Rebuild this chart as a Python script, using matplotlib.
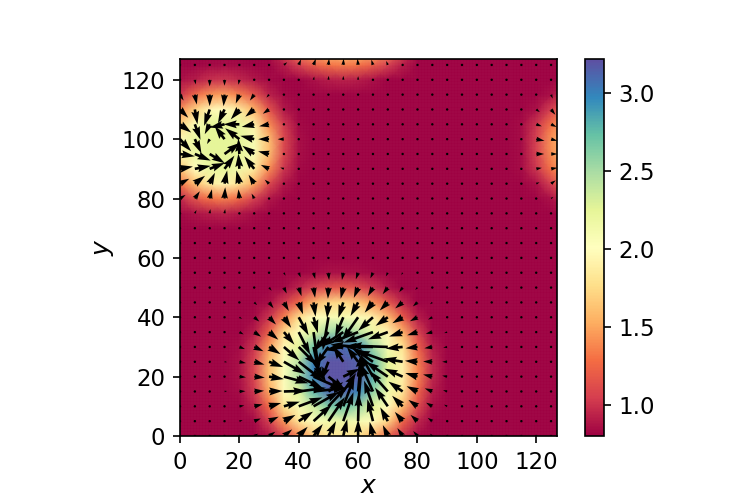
import matplotlib
matplotlib.use("Agg")
import matplotlib.pyplot as plt
import numpy as np

# field values, on a 5 unit grid: (y, first x, values)
field_a = [
    (0, 30, [.87, 1.08, 1.37, 1.65, 1.80, 1.83, 1.77, 1.58, 1.23, .98, .82]),
    (5, 25, [.82, 1.05, 1.44, 1.83, 2.04, 2.14, 2.18, 2.10, 1.98, 1.72, 1.25, .95, .80]),
    (10, 25, [.93, 1.27, 1.80, 2.08, 2.35, 2.65, 2.72, 2.55, 2.25, 2.00, 1.60, 1.12, .84]),
    (15, 20, [.83, 1.02, 1.50, 1.98, 2.28, 2.78, 3.10, 3.15, 3.00, 2.60, 2.14, 1.82, 1.25, .90]),
    (20, 20, [.85, 1.08, 1.62, 2.05, 2.48, 3.00, 3.20, 3.20, 3.17, 2.80, 2.25, 1.90, 1.37, .95]),
    (25, 20, [.85, 1.07, 1.60, 2.04, 2.43, 3.00, 3.20, 3.20, 3.15, 2.78, 2.25, 1.90, 1.35, .95]),
    (30, 20, [.83, 1.00, 1.47, 1.95, 2.25, 2.72, 3.03, 3.10, 2.95, 2.52, 2.10, 1.80, 1.23, .90]),
    (35, 25, [.90, 1.22, 1.75, 2.04, 2.27, 2.52, 2.60, 2.43, 2.18, 1.95, 1.55, 1.08, .82]),
    (40, 25, [.82, 1.00, 1.35, 1.77, 2.00, 2.08, 2.10, 2.05, 1.90, 1.60, 1.20, .90]),
    (45, 30, [.84, 1.02, 1.26, 1.55, 1.72, 1.75, 1.65, 1.44, 1.17, .95]),
    (50, 35, [.82, .93, 1.05, 1.14, 1.17, 1.12, 1.00, .88]),
    (55, 45, [.82, .85, .85, .84, .82]),
]
field_b = [
    (75, 0, [.82, .86, .90, .92, .88, .83, .80]),
    (80, 0, [.95, 1.15, 1.30, 1.35, 1.25, 1.05, .88, .81]),
    (85, 0, [1.30, 1.60, 1.85, 1.95, 1.80, 1.50, 1.10, .88, .80]),
    (90, 0, [1.65, 2.00, 2.20, 2.25, 2.15, 1.85, 1.40, 1.00, .82]),
    (95, 0, [1.93, 2.18, 2.25, 2.25, 2.25, 2.08, 1.60, 1.08, .84]),
    (100, 0, [1.95, 2.20, 2.25, 2.25, 2.25, 2.10, 1.60, 1.10, .84]),
    (105, 0, [1.70, 2.05, 2.25, 2.25, 2.20, 1.90, 1.40, 1.02, .82]),
    (110, 0, [1.40, 1.70, 1.95, 2.00, 1.85, 1.55, 1.15, .88, .80]),
    (115, 0, [1.00, 1.25, 1.42, 1.48, 1.35, 1.15, .92, .82]),
    (120, 0, [.85, .90, .98, 1.00, .95, .88, .82]),
    (125, 5, [.80, .82, .83, .82]),
]
field_c = [
    (120, 45, [.85, .90, .92, .90, .85]),
    (125, 35, [.90, 1.05, 1.20, 1.30, 1.33, 1.30, 1.20, 1.05, .90]),
    (130, 35, [1.10, 1.40, 1.60, 1.70, 1.75, 1.70, 1.60, 1.40, 1.10]),
]
field_d = [
    (80, 125, [.85, 1.00]),
    (85, 120, [.85, 1.05, 1.30]),
    (90, 115, [.83, 1.00, 1.30, 1.55]),
    (95, 115, [.83, 1.05, 1.40, 1.65]),
    (100, 115, [.83, 1.05, 1.42, 1.65]),
    (105, 115, [.83, 1.00, 1.30, 1.55]),
    (110, 120, [.85, 1.05, 1.30]),
    (115, 125, [.85, 1.00]),
]

# arrows: (y, first x, u values, v values), all others are dots
arrows_a = [
    (0, 20, [.6, 1.2, 1.9, 2.5, 2.7, 2.8, 2.3, 1.2, 0, -1, -1.5, -1.6, -1.3, -.7, -.4],
     [.4, .7, 1.3, 2, 2.8, 3.6, 4.5, 5.1, 5, 4.3, 3.3, 2.4, 1.5, .7, .25]),
    (5, 20, [1, 2, 2.9, 3.5, 4.35, 5.5, 5, 3.1, .2, -1.7, -2.3, -2.35, -2.1, -1.4, -.7],
     [.3, .8, 1.35, 1.9, 2.9, 5, 7.3, 8.8, 8.5, 6.7, 4.2, 2.8, 1.9, 1, .3]),
    (10, 15, [.6, 1.5, 2.55, 3.65, 4.85, 7.2, 7.8, 5.6, 3.4, 1.1, -2.7, -3.9, -3.2, -2.75, -1.9, -.95],
     [.2, .25, .6, 1, 1.4, 2.7, 4.4, 6, 8.9, 13.4, 7.8, 5.7, 3.2, 1.95, 1.1, .5]),
    (15, 15, [.8, 1.85, 3, 4.1, 6.8, 8.3, 10, 4.5, 3.9, 1.1, -3.8, -5.5, -4.3, -3.3, -2.3, -1.25],
     [.15, .1, .2, .15, .2, 1.1, 1.1, 2.8, 5.6, 11.8, 8.4, 6.2, 3, 1.6, .95, .4]),
    (20, 15, [.8, 2, 3.2, 4.5, 7.4, 7.2, 8.9, 5, 5, 1.1, -3.8, -6.6, -5.5, -3.7, -2.8, -1.5],
     [0, -.2, -.3, -.75, -2, -3.4, -3.9, -3.9, 2.4, 6.7, 6.7, 4.5, 2.4, 1.1, .65, .3]),
    (25, 15, [.8, 2, 3.1, 4.3, 6.5, 7.2, 3.8, -2.2, -3.1, -3.4, -6.6, -9.4, -5.8, -3.8, -2.8, -1.5],
     [-.1, -.4, -.85, -1.6, -3.7, -5.6, -6.2, -5.6, 4.8, 4.5, 4.5, 3.4, 1, .3, .1, 0]),
    (30, 15, [.7, 1.7, 2.8, 3.5, 4.7, 5.5, 2.1, -3.9, -5.6, -8.4, -8.9, -11.8, -5.1, -3.6, -2.4, -1.2],
     [-.2, -.65, -1.3, -2.2, -4.1, -5.5, -10, -5.5, -1, .7, .1, .4, -.5, -.4, -.4, -.2]),
    (35, 20, [1.3, 2.1, 2.8, 3.2, 3.5, 1.6, -4.5, -6.7, -8.4, -8.9, -6, -4.1, -3.1, -2, -.9],
     [-.7, -1.4, -2.3, -3.8, -6.9, -12, -6, -4.4, -3.2, -3.2, -2.2, -1.35, -.95, -.5, -.3]),
    (40, 20, [.8, 1.55, 2.1, 2.2, 3, 1.3, -1.7, -2.5, -4.9, -4.5, -3.7, -3.1, -2.3, -1.3, -.65],
     [-.5, -1.3, -2.2, -3.2, -5.5, -4.8, -10, -6, -7, -4.1, -2.6, -1.8, -1.2, -.7, -.3]),
    (45, 25, [.9, 1.35, 1.5, 1.3, .6, -.4, -1.5, -2.3, -2.5, -2.45, -2.25, -1.4, -.7],
     [-.8, -1.75, -2.6, -3.6, -4.3, -4.8, -4.7, -4.1, -3.1, -2.45, -1.8, -1.2, -.55]),
    (50, 30, [.8, .85, .85, .45, -.15, -.8, -1.3, -1.55, -1.55, -1.05, -.7],
     [-.95, -1.8, -2.6, -3.1, -3.4, -3.4, -3.1, -2.6, -2, -1.4, -.7]),
    (55, 35, [.5, .6, .5, .2, -.4, -.7, -.8, -.6, -.4],
     [-.9, -1.4, -1.9, -2.2, -2.2, -2, -1.7, -1.1, -.7]),
    (60, 45, [.1, 0, -.1, -.2], [-.6, -.7, -.7, -.6]),
]
arrows_b = [
    (75, 5, [.5, .2, .2, .1, -.2], [1, 1.3, 1.3, .7, .3]),
    (80, 0, [1.7, 1.5, .7, .2, -.3, -.8, -.5], [1.1, 2.2, 2.8, 3.4, 2.8, 1.5, .5]),
    (85, 0, [2.8, 3.1, 1.6, .8, -.9, -1.7, -1.3, -.3], [1.5, 2.4, 3.3, 4, 4, 2.7, 1.2, .1]),
    (90, 0, [3.9, 4.8, 4.6, 3, -.3, -3, -2.5, -1.1], [.7, .9, 1.8, 4, 4.6, 3.8, 1.2, .4]),
    (95, 0, [4.5, 4.8, 4.6, 4.7, -.3, -3.6, -3.3, -.5], [-.7, -2, -2.8, 3.4, 4.7, 2.5, .8, .1]),
    (100, 0, [3.4, 2, -.8, -3, -4.3, -4.2, -3.3, -1.9], [-3.7, -4.3, -1.5, 4, 3.3, 1, 0, 0]),
    (105, 0, [3.4, 1.7, -1.5, -4.5, -4.8, -3.8, -3, -.3], [-2.5, -4.7, -3, -1, 0, -.8, -.6, 0]),
    (110, 0, [2.5, .8, -1.7, -2, -2.6, -2.7, -1.9, -.4], [-2.5, -4.5, -5, -4.2, -3, -2.2, -1.3, -.1]),
    (115, 0, [1.1, .6, 0, -.3, -1.1, -1.3, -.8], [-1.8, -3, -3.5, -3.5, -2.7, -1.8, -.9]),
    (120, 5, [.3, 0, 0, -.3, -.2], [-1.4, -2, -1.8, -1.5, -.6]),
]
arrows_c = [
    (120, 40, [.1, .2, .1, 0, 0, -.1], [.5, 1, 1.2, 1.2, 1.1, .7]),
    (125, 35, [1, .7, .7, .2, .1, -.2, -.5, -.5, -.3], [.8, 1.7, 1.9, 1.9, 1.9, 1.9, 1.6, 1.2, .4]),
]
arrows_d = [
    (80, 125, [.7], [.5]),
    (85, 120, [1, 1.4], [.4, 1]),
    (90, 120, [1.7, 1.9], [.3, .3]),
    (95, 115, [.5, 2.4, 1.9], [0, 0, 0]),
    (100, 115, [.5, 2.5, 1.9], [0, -.5, -.5]),
    (105, 120, [1.7, 1.7], [-.6, -.8]),
    (110, 120, [1.1, 1.3], [-.8, -1.6]),
    (115, 125, [.5], [-1.2]),
]

background = 0.8
vmin = 0.8
vmax = 3.22
x_ticks = [0, 20, 40, 60, 80, 100, 120]
bar_ticks = [1.0, 1.5, 2.0, 2.5, 3.0]

grid = np.arange(0, 131, 5)
field = np.full((len(grid), len(grid)), background)
for y, x0, vals in field_a + field_b + field_c + field_d:
    field[y // 5, x0 // 5:x0 // 5 + len(vals)] = vals

qx = np.arange(0, 126, 5)
U = np.zeros((len(qx), len(qx)))
V = np.zeros((len(qx), len(qx)))
for y, x0, us, vs in arrows_a + arrows_b + arrows_c + arrows_d:
    U[y // 5, x0 // 5:x0 // 5 + len(us)] = us
    V[y // 5, x0 // 5:x0 // 5 + len(vs)] = vs

fig = plt.figure(figsize=(747 / 150, 498 / 150), dpi=150)
ax = fig.add_axes([180 / 747, 62 / 498, 377 / 747, 377 / 498])
mesh = ax.pcolormesh(grid, grid, field, cmap="Spectral", vmin=vmin, vmax=vmax, shading="gouraud")
# faint seams between the cells of the original mesh
seams = np.arange(0, 128)
ax.vlines(seams, 0, 127, colors="w", linewidth=0.1, alpha=0.15, zorder=1.5)
ax.hlines(seams, 0, 127, colors="w", linewidth=0.1, alpha=0.15, zorder=1.5)
ax.quiver(qx, qx, U, V, angles="xy", scale_units="xy", scale=0.9, color="k", units="width", width=0.007, zorder=3)
ax.set_xlim(0, 127)
ax.set_ylim(0, 127)
ax.set_xticks(x_ticks)
ax.set_yticks(x_ticks)
ax.tick_params(labelsize=11)
ax.set_xlabel("$x$", fontsize=12, labelpad=0)
ax.set_ylabel("$y$", fontsize=12, labelpad=3)

cax = fig.add_axes([585 / 747, 62 / 498, 19 / 747, 377 / 498])
cb = fig.colorbar(mesh, cax=cax, ticks=bar_ticks)
cb.ax.tick_params(labelsize=11)
fig.savefig("out.png", dpi=150)
